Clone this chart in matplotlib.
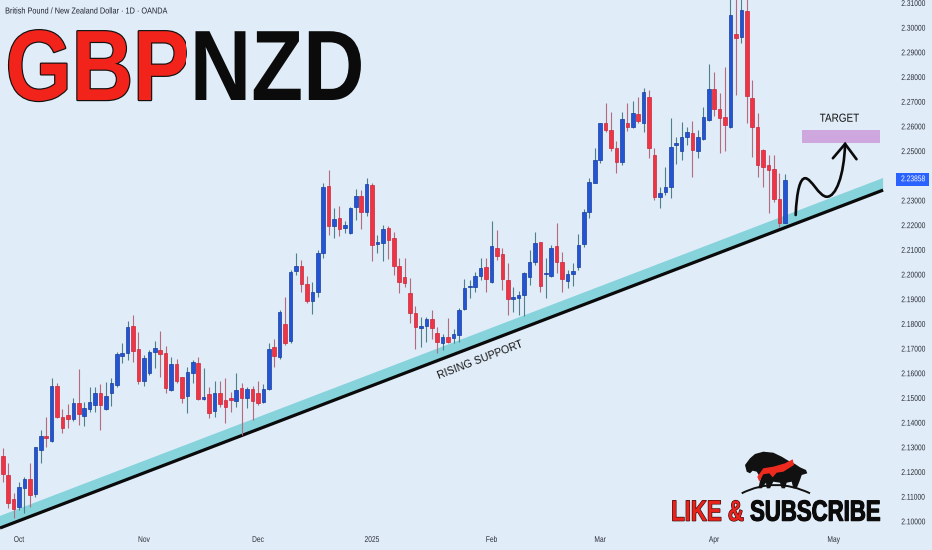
import numpy as np
import matplotlib
matplotlib.use("Agg")
import matplotlib.pyplot as plt
from matplotlib import patheffects as pe
from matplotlib.colors import to_rgba
from matplotlib.transforms import Affine2D, Bbox, blended_transform_factory
from matplotlib.path import Path
from matplotlib.patches import PathPatch, Polygon, Rectangle

plt.rcParams['font.family'] = ['Liberation Sans', 'DejaVu Sans']

# daily candles, GBP/NZD
opens = [2.1268, 2.1190, 2.1093, 2.1062, 2.1136, 2.1173, 2.1112, 2.1291, 2.1348, 2.1328,
         2.1550, 2.1426, 2.1432, 2.1416, 2.1480, 2.1429, 2.1456, 2.1475, 2.1523, 2.1456,
         2.1521, 2.1555, 2.1673, 2.1685, 2.1795, 2.1700, 2.1572, 2.1604, 2.1687, 2.1696,
         2.1683, 2.1534, 2.1638, 2.1586, 2.1510, 2.1602, 2.1645, 2.1499, 2.1517, 2.1450,
         2.1521, 2.1494, 2.1503, 2.1491, 2.1541, 2.1501, 2.1537, 2.1523, 2.1484, 2.1537,
         2.1710, 2.1667, 2.1802, 2.1733, 2.2017, 2.2036, 2.1964, 2.1895, 2.1932, 2.2088,
         2.2360, 2.2200, 2.2230, 2.2189, 2.2171, 2.2274, 2.2320, 2.2254, 2.2365, 2.2124,
         2.2131, 2.2192, 2.2151, 2.2036, 2.1991, 2.1926, 2.1845, 2.1787, 2.1795, 2.1821,
         2.1764, 2.1726, 2.1748, 2.1746, 2.1757, 2.1861, 2.1950, 2.1950, 2.1996, 2.2031,
         2.1973, 2.2108, 2.2084, 2.1980, 2.1904, 2.1907, 2.1918, 2.1993, 2.2053, 2.2132,
         2.2004, 2.1997, 2.2119, 2.2051, 2.1977, 2.2003, 2.2031, 2.2126, 2.2256, 2.2374,
         2.2466, 2.2614, 2.2587, 2.2513, 2.2459, 2.2614, 2.2601, 2.2652, 2.2614, 2.2722,
         2.2486, 2.2317, 2.2337, 2.2358, 2.2527, 2.2502, 2.2560, 2.2574, 2.2501, 2.2550,
         2.2628, 2.2752, 2.2671, 2.2639, 2.2601, 2.2978, 2.2965, 2.3070, 2.2716, 2.2598,
         2.2505, 2.2446, 2.2429, 2.2307, 2.2212]
highs = [2.1299, 2.1237, 2.1118, 2.1163, 2.1183, 2.1240, 2.1305, 2.1372, 2.1424, 2.1584,
         2.1561, 2.1456, 2.1478, 2.1503, 2.1618, 2.1487, 2.1548, 2.1548, 2.1557, 2.1568,
         2.1582, 2.1689, 2.1723, 2.1815, 2.1838, 2.1770, 2.1676, 2.1696, 2.1734, 2.1774,
         2.1712, 2.1669, 2.1659, 2.1588, 2.1629, 2.1656, 2.1667, 2.1622, 2.1545, 2.1572,
         2.1572, 2.1582, 2.1525, 2.1604, 2.1564, 2.1548, 2.1550, 2.1572, 2.1559, 2.1726,
         2.1740, 2.1858, 2.1910, 2.2020, 2.2090, 2.2061, 2.1996, 2.1973, 2.2101, 2.2371,
         2.2425, 2.2270, 2.2281, 2.2220, 2.2277, 2.2347, 2.2344, 2.2392, 2.2371, 2.2162,
         2.2203, 2.2198, 2.2175, 2.2068, 2.2068, 2.1987, 2.1876, 2.1831, 2.1831, 2.1858,
         2.1791, 2.1761, 2.1825, 2.1780, 2.1865, 2.1984, 2.1980, 2.2013, 2.2068, 2.2068,
         2.2220, 2.2182, 2.2108, 2.2047, 2.1953, 2.1936, 2.2013, 2.2101, 2.2173, 2.2135,
         2.2068, 2.2122, 2.2209, 2.2092, 2.2020, 2.2050, 2.2165, 2.2266, 2.2392, 2.2513,
         2.2617, 2.2695, 2.2661, 2.2543, 2.2661, 2.2698, 2.2705, 2.2722, 2.2756, 2.2749,
         2.2513, 2.2358, 2.2439, 2.2635, 2.2560, 2.2621, 2.2598, 2.2624, 2.2587, 2.2679,
         2.2855, 2.2823, 2.2736, 2.2844, 2.3140, 2.3125, 2.3150, 2.3130, 2.2790, 2.2655,
         2.2509, 2.2486, 2.2486, 2.2412, 2.2409]
lows = [2.1163, 2.1055, 2.1015, 2.1048, 2.1035, 2.1062, 2.1102, 2.1240, 2.1305, 2.1325,
        2.1420, 2.1359, 2.1379, 2.1410, 2.1393, 2.1388, 2.1446, 2.1446, 2.1372, 2.1453,
        2.1469, 2.1548, 2.1642, 2.1656, 2.1649, 2.1559, 2.1550, 2.1595, 2.1622, 2.1588,
        2.1521, 2.1531, 2.1561, 2.1483, 2.1440, 2.1564, 2.1494, 2.1494, 2.1420, 2.1426,
        2.1467, 2.1402, 2.1446, 2.1467, 2.1352, 2.1460, 2.1413, 2.1474, 2.1480, 2.1534,
        2.1629, 2.1659, 2.1717, 2.1726, 2.2000, 2.1932, 2.1888, 2.1842, 2.1910, 2.2068,
        2.2162, 2.2149, 2.2158, 2.2169, 2.2166, 2.2223, 2.2185, 2.2240, 2.2058, 2.2088,
        2.2057, 2.2064, 2.2000, 2.1926, 2.1950, 2.1804, 2.1699, 2.1707, 2.1730, 2.1740,
        2.1685, 2.1696, 2.1723, 2.1723, 2.1730, 2.1858, 2.1906, 2.1932, 2.1980, 2.1932,
        2.1966, 2.2061, 2.1939, 2.1838, 2.1851, 2.1838, 2.1834, 2.1960, 2.2041, 2.1932,
        2.1906, 2.1993, 2.2007, 2.1932, 2.1946, 2.1955, 2.2020, 2.2115, 2.2230, 2.2371,
        2.2455, 2.2580, 2.2503, 2.2412, 2.2446, 2.2584, 2.2594, 2.2614, 2.2580, 2.2473,
        2.2304, 2.2270, 2.2324, 2.2311, 2.2448, 2.2466, 2.2527, 2.2398, 2.2473, 2.2547,
        2.2625, 2.2644, 2.2494, 2.2501, 2.2594, 2.2729, 2.2941, 2.2614, 2.2478, 2.2399,
        2.2358, 2.2250, 2.2297, 2.2196, 2.2209]
closes = [2.1194, 2.1075, 2.1052, 2.1140, 2.1173, 2.1109, 2.1302, 2.1349, 2.1339, 2.1550,
          2.1424, 2.1379, 2.1416, 2.1480, 2.1437, 2.1460, 2.1484, 2.1523, 2.1475, 2.1510,
          2.1564, 2.1679, 2.1685, 2.1788, 2.1692, 2.1572, 2.1663, 2.1689, 2.1703, 2.1680,
          2.1541, 2.1640, 2.1572, 2.1501, 2.1607, 2.1648, 2.1497, 2.1502, 2.1442, 2.1523,
          2.1478, 2.1464, 2.1494, 2.1534, 2.1501, 2.1537, 2.1491, 2.1483, 2.1540, 2.1700,
          2.1672, 2.1851, 2.1726, 2.2013, 2.2038, 2.1964, 2.1896, 2.1932, 2.2090, 2.2358,
          2.2200, 2.2227, 2.2186, 2.2201, 2.2270, 2.2320, 2.2254, 2.2367, 2.2123, 2.2132,
          2.2185, 2.2142, 2.2036, 2.1973, 2.1969, 2.1845, 2.1788, 2.1795, 2.1821, 2.1784,
          2.1730, 2.1748, 2.1730, 2.1760, 2.1858, 2.1949, 2.1957, 2.1996, 2.2030, 2.1984,
          2.2117, 2.2077, 2.1983, 2.1902, 2.1912, 2.1919, 2.2009, 2.2054, 2.2128, 2.1955,
          2.2009, 2.2111, 2.2054, 2.1983, 2.2004, 2.2016, 2.2122, 2.2256, 2.2378, 2.2466,
          2.2614, 2.2587, 2.2513, 2.2459, 2.2631, 2.2598, 2.2657, 2.2625, 2.2740, 2.2513,
          2.2317, 2.2333, 2.2358, 2.2520, 2.2536, 2.2560, 2.2578, 2.2505, 2.2560, 2.2641,
          2.2752, 2.2671, 2.2635, 2.2607, 2.3053, 2.2959, 2.3073, 2.2726, 2.2598, 2.2446,
          2.2439, 2.2425, 2.2307, 2.2212, 2.2386]
last_price = 2.23858

month_labels = ['Oct', 'Nov', 'Dec', '2025', 'Feb', 'Mar', 'Apr', 'May']
month_idx = [3, 26, 47, 68, 90, 110, 131, 153]
price_ticks = [round(2.10 + 0.01 * i, 2) for i in range(22)]

# drawings on the chart
support_x = [-0.5, 162.1]
support_y = [2.0975, 2.2344]
band_width = 0.0049
target_x = [147.1, 161.6]
target_y = [2.2533, 2.2587]
curve_x = [146.0, 146.2, 146.8, 147.75, 148.9, 150.3, 151.75, 153.4, 154.9, 155.1]
curve_y = [2.2243, 2.2340, 2.2392, 2.2392, 2.2392, 2.2317, 2.2317, 2.2317, 2.2400, 2.2531]
head_x = [152.85, 155.1, 157.2]
head_y = [2.2473, 2.2531, 2.2469]

BG = '#e0ecf7'
BLUE = '#2354d4'
RED = '#ef3446'


class Narrow(pe.AbstractPathEffect):
    """squeeze text horizontally (the screenshot is compressed).
    parts: optional list of (x_from, x_to, face, edge, lw) in pixels, to colour pieces of one string"""
    def __init__(self, sx=0.8, anchor='left', parts=None):
        super().__init__()
        self.sx, self.anchor, self.parts = sx, anchor, parts

    def draw_path(self, renderer, gc, tpath, affine, rgbFace=None):
        ext = affine.transform_path(tpath).get_extents()
        x0 = {'left': ext.x0, 'right': ext.x1, 'center': 0.5 * (ext.x0 + ext.x1)}[self.anchor]
        aff = affine + Affine2D().translate(-x0, 0).scale(self.sx, 1).translate(x0, 0)
        if not self.parts:
            renderer.draw_path(gc, tpath, aff, rgbFace)
            return
        for xa, xb, face, edge, lw in self.parts:
            clip = Bbox([[xa, -1e5], [xb, 1e5]])
            if edge is not None:
                g = renderer.new_gc()
                g.copy_properties(gc)
                g.set_clip_rectangle(clip)
                g.set_foreground(edge)
                g.set_linewidth(lw)
                g.set_joinstyle('round')
                renderer.draw_path(g, tpath, aff, to_rgba(face))
                g.restore()
            g = renderer.new_gc()
            g.copy_properties(gc)
            g.set_clip_rectangle(clip)
            g.set_linewidth(0.0)
            renderer.draw_path(g, tpath, aff, to_rgba(face))
            g.restore()


o = np.array(opens)
h = np.array(highs)
l = np.array(lows)
c = np.array(closes)
x = np.arange(len(o))
up = c >= o

fig = plt.figure(figsize=(9.32, 5.5), dpi=100)
fig.patch.set_facecolor(BG)
ax = fig.add_axes([0, 20 / 550, 888 / 932, 530 / 550])
ax.set_facecolor(BG)
ax.set_xlim(-0.5, 163.0)
ax.set_ylim(2.0967, 2.3114)
for s in ax.spines.values():
    s.set_visible(False)

# rising support band + line
sx = np.array(support_x)
sy = np.array(support_y)
band = Polygon([[sx[0], sy[0]], [sx[1], sy[1]], [sx[1], sy[1] + band_width], [sx[0], sy[0] + band_width]],
               closed=True, facecolor='#86d3dc', edgecolor='none', zorder=1)
ax.add_patch(band)
ax.plot(sx, sy, color='#0a0a0a', lw=2.3, solid_capstyle='butt', zorder=2)

# candles
wick_col = np.where(up, '#4e7f8c', '#b46b7e')
ax.vlines(x, l, h, colors=wick_col, lw=0.8, zorder=3)
body = np.maximum(np.abs(c - o), 0.0005)
bottom = np.minimum(o, c)
ax.bar(x[up], body[up], bottom=bottom[up], width=0.66, color=BLUE, edgecolor='#173c9c', lw=0.5, zorder=4)
ax.bar(x[~up], body[~up], bottom=bottom[~up], width=0.66, color=RED, edgecolor='#c8283a', lw=0.5, zorder=4)

ax.text(87.9, 2.1656, 'RISING SUPPORT', fontsize=7.7, rotation=21, ha='center', va='center',
        color='#111111', rotation_mode='anchor', zorder=5)

# target zone + projected path
ax.add_patch(Rectangle((target_x[0], target_y[0]), target_x[1] - target_x[0], target_y[1] - target_y[0],
                       facecolor='#cfa7df', edgecolor='none', zorder=3))
ax.text(sum(target_x) / 2 - 0.3, 2.2633, 'TARGET', fontsize=8.4, ha='center', va='center', color='#111111',
        path_effects=[Narrow(0.85, 'center')], zorder=5)
verts = list(zip(curve_x, curve_y))
codes = [Path.MOVETO] + [Path.CURVE4] * 9
ax.add_patch(PathPatch(Path(verts, codes), facecolor='none', edgecolor='#0a0a0a', lw=1.9,
                       capstyle='round', zorder=6))
ax.plot(head_x, head_y, color='#0a0a0a', lw=1.9, solid_capstyle='round', solid_joinstyle='miter', zorder=6)

# axes (the 2.24000 label sits under the last-price tag)
ax.yaxis.tick_right()
ax.set_yticks(price_ticks)
ax.set_yticklabels(['' if abs(v - 2.24) < 1e-9 else f'{v:.5f}' for v in price_ticks])
ax.set_xticks(month_idx)
ax.set_xticklabels(month_labels)
ax.tick_params(axis='y', length=0, pad=9.5, labelsize=6, labelcolor='#2a2e39')
ax.tick_params(axis='x', length=0, pad=5, labelsize=6, labelcolor='#2a2e39')
for t in ax.get_yticklabels():
    t.set_path_effects([Narrow(0.8, 'left')])
for t in ax.get_xticklabels():
    t.set_path_effects([Narrow(0.8, 'center')])

# last price tag
tr = blended_transform_factory(ax.transAxes, ax.transData)
ax.add_patch(Rectangle((896 / 888, last_price - 0.0027), 33 / 888, 0.0054, transform=tr,
                       facecolor='#2962ff', edgecolor='none', clip_on=False, zorder=7))
ax.text(901 / 888, last_price, f'{last_price:.5f}', transform=tr, fontsize=6, color='white',
        ha='left', va='center', clip_on=False, zorder=8, path_effects=[Narrow(0.8, 'left')])

# header and big title
fig.text(5 / 932, 1 - 11 / 550, 'British Pound / New Zealand Dollar \u00b7 1D \u00b7 OANDA', fontsize=6.2,
         color='#1e222d', va='center', ha='left', path_effects=[Narrow(0.85, 'left')])
fig.text(5 / 932, 1 - 100 / 550, 'GBPNZD', fontsize=72, weight='bold', color='#0b0b0b', va='baseline',
         ha='left', path_effects=[Narrow(0.85, 'left', parts=[(0, 186, '#f2231b', '#111111', 1.7),
                                                              (186, 400, '#0b0b0b', None, 0)])])

# like & subscribe badge (anchored on its right end)
fig.text(881 / 932, 1 - 520.7 / 550, 'LIKE & SUBSCRIBE', fontsize=21, weight='bold', color='#0b0b0b',
         va='baseline', ha='right',
         path_effects=[Narrow(0.76, 'right', parts=[(600, 746, '#e8231c', '#3a0a0a', 0.9),
                                                    (746, 932, '#0b0b0b', '#0b0b0b', 0.8)])])

deco = fig.add_axes([0, 0, 1, 1], zorder=5)
deco.set_xlim(0, 932)
deco.set_ylim(550, 0)
deco.axis('off')
beasts = [(745.0, 465.0), (750.0, 458.3), (755.0, 454.0), (763.3, 451.7), (773.3, 452.7), (781.7, 456.7),
          (788.3, 460.7), (795.0, 464.0), (800.0, 467.3), (806.0, 470.0), (807.3, 473.3), (801.7, 475.0),
          (800.0, 480.0), (796.7, 488.3), (793.3, 488.3), (791.7, 481.7), (786.7, 482.7), (785.0, 488.3),
          (781.7, 488.3), (780.0, 482.7), (773.3, 481.7), (770.0, 488.3), (766.7, 488.3), (766.0, 482.7),
          (761.7, 488.3), (758.3, 488.3), (760.7, 478.3), (756.7, 471.7), (752.7, 470.7), (750.0, 473.3),
          (746.7, 471.7)]
flash = [(757.3, 476.7), (763.3, 468.3), (773.3, 466.7), (785.0, 463.3), (792.7, 459.3), (794.0, 465.0),
         (783.3, 471.7), (776.7, 472.7), (772.7, 477.3), (769.3, 473.3), (763.3, 474.3), (759.3, 481.7)]
deco.add_patch(Polygon(beasts, closed=True, facecolor='#111111', edgecolor='none'))
deco.add_patch(Polygon(flash, closed=True, facecolor='#ee2a1f', edgecolor='none'))
deco.add_patch(PathPatch(Path([(741.7, 493.3), (775.0, 476.7), (810.0, 493.3)],
                              [Path.MOVETO, Path.CURVE3, Path.CURVE3]),
                         facecolor='none', edgecolor='#111111', lw=1.4))

fig.savefig('out.png', dpi=100, facecolor=BG)
